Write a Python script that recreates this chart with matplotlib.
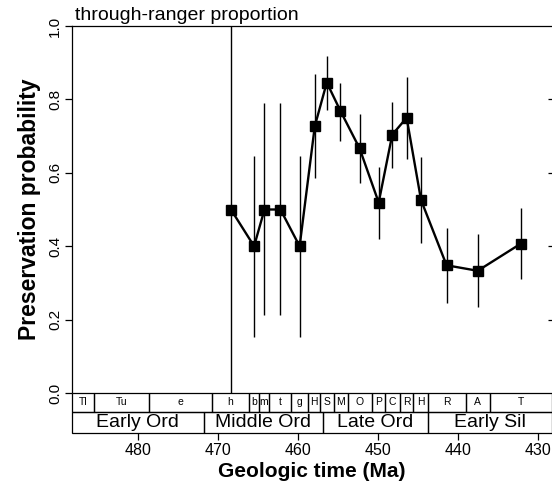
import numpy as np
import matplotlib
matplotlib.use("Agg")
import matplotlib.pyplot as plt
from matplotlib.patches import Rectangle

plt.rcParams["font.family"] = ["Liberation Sans", "DejaVu Sans"]

# Stage midpoints (Ma) and through-ranger proportion with error bars
ages = [468.4, 465.5, 464.2, 462.2, 459.8, 457.9, 456.4, 454.7,
        452.3, 449.9, 448.2, 446.4, 444.6, 441.4, 437.5, 432.1]
prop = [0.50, 0.40, 0.50, 0.50, 0.40, 0.727, 0.846, 0.769,
        0.667, 0.519, 0.704, 0.75, 0.526, 0.348, 0.333, 0.407]
lower = [0.0, 0.153, 0.213, 0.213, 0.153, 0.585, 0.771, 0.687,
         0.573, 0.420, 0.612, 0.637, 0.408, 0.244, 0.233, 0.310]
upper = [1.0, 0.645, 0.789, 0.789, 0.645, 0.868, 0.918, 0.846,
         0.760, 0.617, 0.794, 0.862, 0.644, 0.449, 0.432, 0.503]

# Time scale
stage_bounds = [488.3, 485.5, 478.6, 470.8, 466.1, 464.9, 463.6, 460.9, 458.7, 457.3,
                455.5, 453.8, 450.7, 449.1, 447.2, 445.6, 443.7, 439.0, 436.0, 428.2]
stage_labels = ["Tl", "Tu", "e", "h", "b", "m", "t", "g", "H", "S",
                "M", "O", "P", "C", "R", "H", "R", "A", "T"]
series_bounds = [488.3, 471.8, 456.9, 443.7, 428.2]
series_labels = ["Early Ord", "Middle Ord", "Late Ord", "Early Sil"]

W, H = 552, 487
fig = plt.figure(figsize=(W / 100, H / 100), dpi=100)

left = 72 / W
ax = fig.add_axes([left, 1 - 393 / H, 1 - left, (393 - 26) / H])
axt = fig.add_axes([left, 1 - 433.3 / H, 1 - left, 40.3 / H])

xlim = (488.3, 428.2)

# main panel
yerr = [np.array(prop) - np.array(lower), np.array(upper) - np.array(prop)]
ax.errorbar(ages, prop, yerr=yerr, fmt="none", ecolor="black", elinewidth=1.0, capsize=0)
ax.plot(ages, prop, color="black", lw=1.7, marker="s", ms=7, mfc="black", mec="black")

ax.set_xlim(*xlim)
ax.set_ylim(0, 1)
ax.set_xticks([])
ax.set_yticks(np.arange(0, 1.01, 0.2))
ax.set_yticklabels(["0.0", "0.2", "0.4", "0.6", "0.8", "1.0"], rotation=90, va="center")
ax.tick_params(axis="y", direction="out", length=5, width=0.9, labelsize=11, pad=2)
ax.spines["right"].set_visible(False)
ax.spines["bottom"].set_visible(False)
ax.spines["left"].set_linewidth(0.9)
ax.spines["top"].set_linewidth(0.9)
ax.set_ylabel("Preservation probability", fontsize=16.5, fontweight="bold", labelpad=5)
ax.text(0.006, 1.005, "through-ranger proportion", transform=ax.transAxes,
        fontsize=14, ha="left", va="bottom")

# right ticks pointing inward (spine at the image edge)
axr = ax.secondary_yaxis("right")
axr.set_yticks([0.2, 0.4, 0.6, 0.8])
axr.tick_params(direction="in", length=3, width=0.9, labelright=False)
axr.spines["right"].set_visible(False)

# time scale boxes
axt.set_xlim(*xlim)
axt.set_ylim(0, 40.3)
for i, lab in enumerate(stage_labels):
    a, b = stage_bounds[i], stage_bounds[i + 1]
    axt.add_patch(Rectangle((b, 21.6), a - b, 18.7, fill=False, ec="black", lw=0.9, clip_on=False))
    axt.text((a + b) / 2, 21.6 + 9.35, lab, ha="center", va="center", fontsize=7.5)
for i, lab in enumerate(series_labels):
    a, b = series_bounds[i], series_bounds[i + 1]
    axt.add_patch(Rectangle((b, 0), a - b, 21.6, fill=False, ec="black", lw=0.9, clip_on=False))
    axt.text((a + b) / 2, 10.8, lab, ha="center", va="center", fontsize=14)
for s in axt.spines.values():
    s.set_visible(False)
axt.set_yticks([])
axt.set_xticks([480, 470, 460, 450, 440, 430])
axt.tick_params(axis="x", direction="out", length=5, width=0.9, labelsize=11.5, pad=2)
axt.set_xlabel("Geologic time (Ma)", fontsize=15, fontweight="bold", labelpad=3)

fig.savefig("out.png", dpi=100)
